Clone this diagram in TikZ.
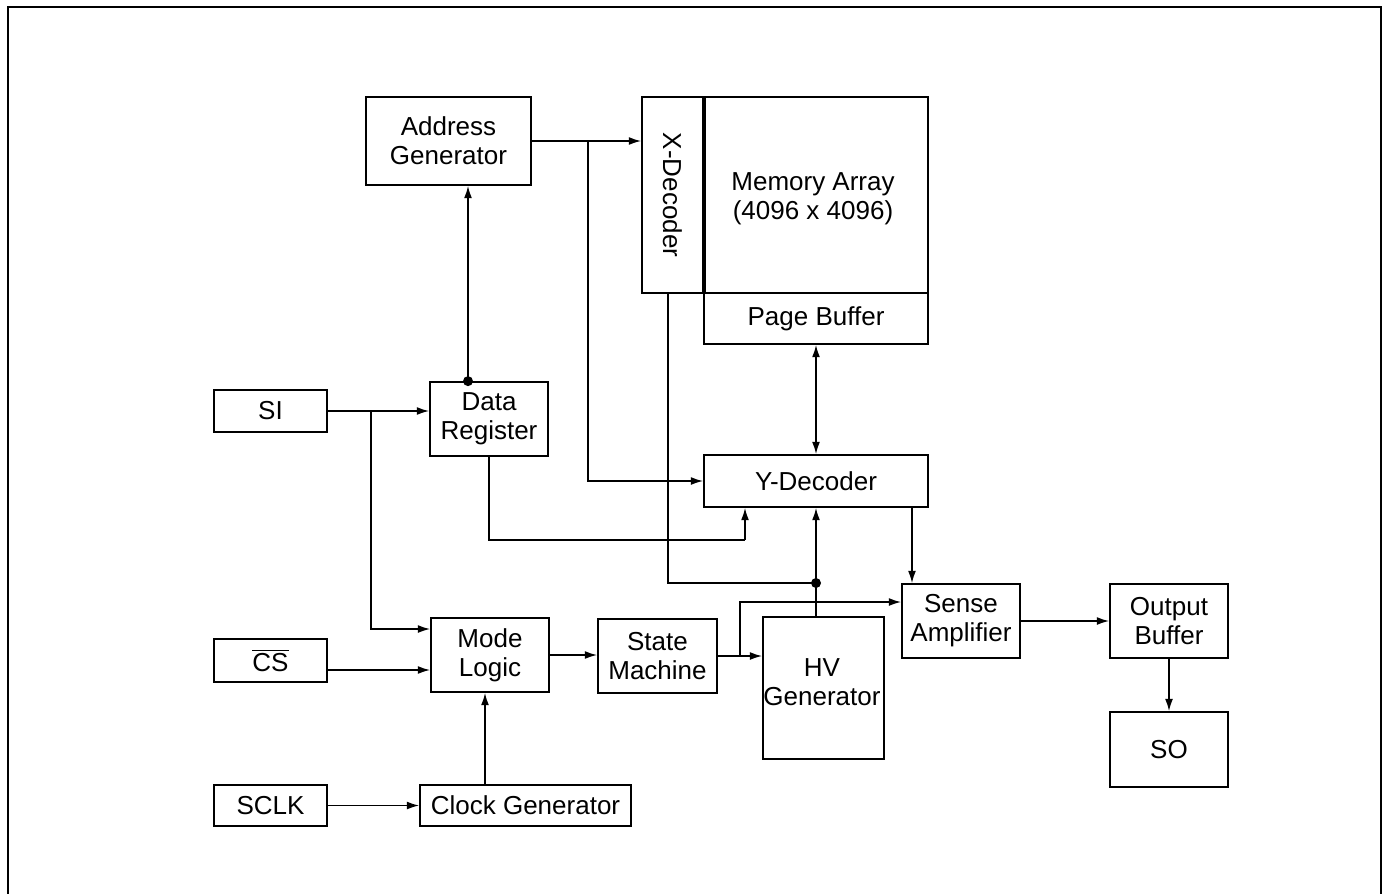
\documentclass[tikz,border=0pt]{standalone}
\usepackage{fontspec}
\setmainfont{Liberation Sans}
\usepackage{tikz}
\usetikzlibrary{positioning,arrows.meta}

\begin{document}
\begin{tikzpicture}[x=0.02cm,y=-0.02cm,
    blk/.style={draw,line width=1pt,align=center,inner sep=0pt,font=\fontsize{14.8}{16.5}\selectfont},
    lbl/.style={align=center,inner sep=0pt,font=\fontsize{14.8}{16.5}\selectfont},
    wire/.style={line width=0.85pt},
    arr/.style={line width=0.85pt,-{Latex[length=7pt,width=4.5pt]}},
    dblarr/.style={line width=0.85pt,{Latex[length=7pt,width=4.5pt]}-{Latex[length=7pt,width=4.5pt]}}]
    \useasboundingbox (0,0) rectangle (1388,893);
    \draw[line width=1.1pt] (8,905) -- (8,7) -- (1381,7) -- (1381,905);

    \node[blk,minimum width=3.3cm,minimum height=1.76cm] (addr) at (448.5,141) {Address\\Generator};
    \node[blk,minimum width=1.22cm,minimum height=3.92cm] (xdec) at (672.5,195) {};
    \node[lbl,rotate=-90] (xdeclbl) at (xdec.center) {X-Decoder};
    \node[blk,minimum width=4.5cm,minimum height=3.92cm] (mem) at (815.5,195) {};
    \node[lbl] (memlbl) at (813,199) {Memory Array\\(4096 x 4096)};
    \draw[line width=2pt] (xdec.north east) -- (xdec.south east);
    \node[blk,minimum width=4.48cm,minimum height=1.02cm] (page) at (816,318.5) {Page Buffer};
    \node[blk,minimum width=4.48cm,minimum height=1.04cm] (ydec) at (816,481) {Y-Decoder};
    \node[blk,minimum width=2.36cm,minimum height=1.48cm] (datareg) at (489,419) {Data\\Register};
    \node[blk,minimum width=2.26cm,minimum height=0.84cm] (si) at (270.5,411) {SI};
    \node[blk,minimum width=2.26cm,minimum height=0.86cm] (cs) at (270.5,660.5) {$\overline{\mbox{CS}}$};
    \node[blk,minimum width=2.26cm,minimum height=0.82cm] (sclk) at (270.5,805.5) {SCLK};
    \node[blk,minimum width=2.36cm,minimum height=1.48cm] (mode) at (490,655) {Mode\\Logic};
    \node[blk,minimum width=4.22cm,minimum height=0.82cm] (clk) at (525.5,805.5) {Clock Generator};
    \node[blk,minimum width=2.38cm,minimum height=1.48cm] (state) at (657.5,656) {State\\Machine};
    \node[blk,minimum width=2.42cm,minimum height=2.84cm] (hv) at (823.5,688) {};
    \node[lbl] (hvlbl) at (822,682) {HV\\Generator};
    \node[blk,minimum width=2.36cm,minimum height=1.48cm] (sense) at (961,621) {Sense\\Amplifier};
    \node[blk,minimum width=2.36cm,minimum height=1.48cm] (outbuf) at (1169,621) {Output\\Buffer};
    \node[blk,minimum width=2.36cm,minimum height=1.5cm] (so) at (1169,749.5) {SO};

    \coordinate (addrb) at ([xshift=1.12cm]addr.east);
    \coordinate (drtop) at ([xshift=-0.42cm]datareg.north);
    \coordinate (drj) at (745,540);
    \coordinate (hvj) at (816,583);
    \coordinate (sib) at ([xshift=0.86cm]si.east);
    \coordinate (csin) at ([yshift=-0.3cm]mode.west);
    \coordinate (smb) at ([xshift=0.44cm]state.east);
    \coordinate (ysa) at ([xshift=1.92cm]ydec.south);
    \coordinate (clkin) at ([xshift=-0.1cm]mode.south);

    \draw[arr] (addr.east) -- (addr.east -| xdec.west);
    \draw[arr] (addrb) |- (ydec.west);
    \draw[arr] (drtop) -- (drtop |- addr.south);
    \fill (drtop) circle[radius=0.1cm];
    \draw[wire] (datareg.south) |- (drj);
    \draw[arr] (drj) -- (drj |- ydec.south);
    \draw[wire] ([xshift=-0.09cm]xdec.south) |- (hvj);
    \draw[arr] (hvj |- hv.north) -- (ydec.south);
    \fill (hvj) circle[radius=0.1cm];
    \draw[dblarr] (page.south) -- (ydec.north);
    \draw[arr] (ysa) -- (ysa |- sense.north);
    \draw[arr] (si.east) -- (si.east -| datareg.west);
    \draw[arr] (sib) |- ([yshift=0.52cm]mode.west);
    \draw[arr] (cs.east |- csin) -- (csin);
    \draw[arr] (mode.east) -- (mode.east -| state.west);
    \draw[arr] (state.east) -- (state.east -| hv.west);
    \draw[arr] (smb) |- ([yshift=0.38cm]sense.west);
    \draw[arr] (clkin |- clk.north) -- (clkin);
    \draw[arr] (sclk.east) -- (clk.west);
    \draw[arr] (sense.east) -- (sense.east -| outbuf.west);
    \draw[arr] (outbuf.south) -- (so.north);
\end{tikzpicture}
\end{document}
